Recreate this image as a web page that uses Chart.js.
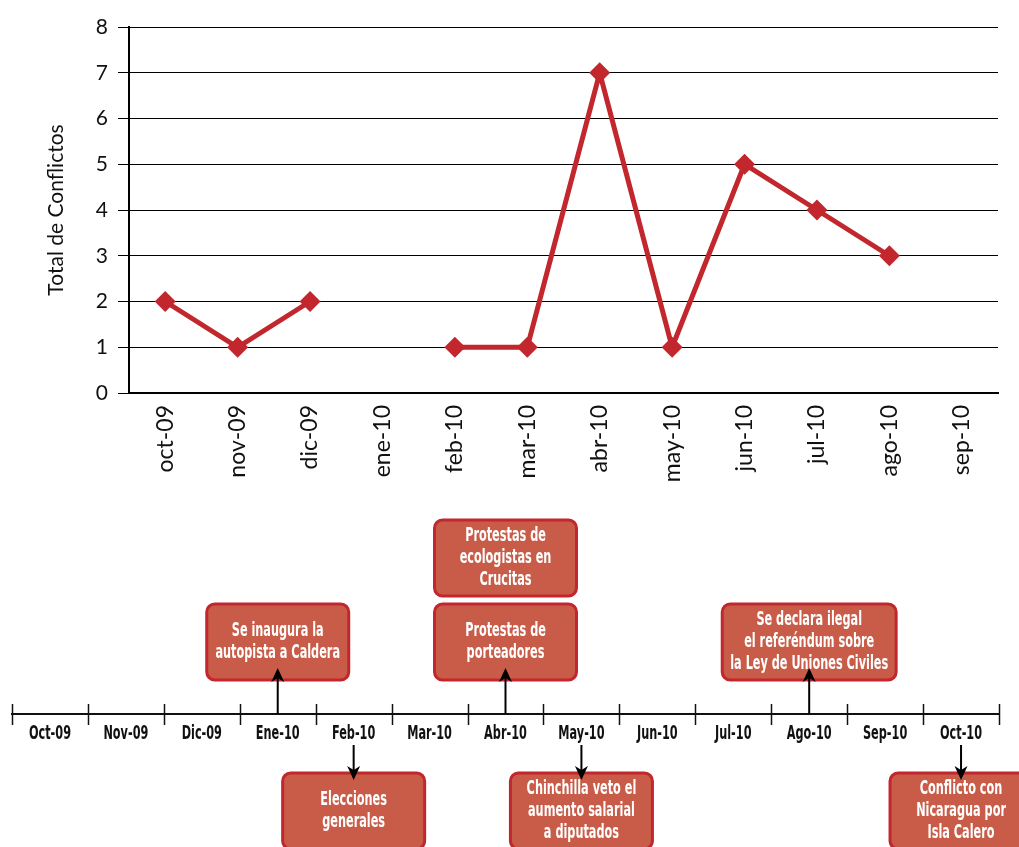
<!DOCTYPE html>
<html>
<head>
<meta charset="utf-8">
<title>Conflictos</title>
<script src="https://cdn.jsdelivr.net/npm/chart.js"></script>
<style>
body { margin: 0; background: #fff; }
#topChart { position: absolute; left: 0; top: 0; }
#timeline { position: absolute; left: 0; top: 490px; }
</style>
</head>
<body>
<canvas id="topChart" width="1019" height="490"></canvas>
<canvas id="timeline" width="1019" height="357"></canvas>
<script>
// data
const months = ['oct-09', 'nov-09', 'dic-09', 'ene-10', 'feb-10', 'mar-10', 'abr-10', 'may-10', 'jun-10', 'jul-10', 'ago-10', 'sep-10'];
const conflicts = [2, 1, 2, null, 1, 1, 7, 1, 5, 4, 3, null];
const yMin = 0;
const yMax = 8;

const timelineMonths = ['Oct-09', 'Nov-09', 'Dic-09', 'Ene-10', 'Feb-10', 'Mar-10', 'Abr-10', 'May-10', 'Jun-10', 'Jul-10', 'Ago-10', 'Sep-10', 'Oct-10'];
const eventMonths = ['Ene-10', 'Abr-10', 'Abr-10', 'Ago-10', 'Feb-10', 'May-10', 'Oct-10'];
const eventRows = [1, 1, 2, 1, -1, -1, -1]; // 1,2 = above the line, -1 = below
const eventTexts = [
    ['Se inaugura la', 'autopista a Caldera'],
    ['Protestas de', 'porteadores'],
    ['Protestas de', 'ecologistas en', 'Crucitas'],
    ['Se declara ilegal', 'el referéndum sobre', 'la Ley de Uniones Civiles'],
    ['Elecciones', 'generales'],
    ['Chinchilla veto el', 'aumento salarial', 'a diputados'],
    ['Conflicto con', 'Nicaragua por', 'Isla Calero']
];

const red = '#c1272d';
const geo = 'Lato, "Noto Sans", sans-serif';
const narrow = '"DejaVu Sans Condensed", "DejaVu Sans", sans-serif';
const squeeze = 0.66; // horizontal squeeze to mimic the condensed face

new Chart(document.getElementById('topChart'), {
    type: 'line',
    data: {
        labels: months,
        datasets: [{
            label: 'Total de Conflictos',
            data: conflicts,
            borderColor: red,
            backgroundColor: red,
            borderWidth: 5,
            pointStyle: 'rectRot',
            pointRadius: 10.5,
            pointBorderWidth: 0,
            pointBackgroundColor: red,
            tension: 0
        }]
    },
    options: {
        responsive: false,
        animation: false,
        layout: { padding: { left: 40, top: 27, right: 21, bottom: 0 } },
        plugins: { legend: { display: false }, tooltip: { enabled: false } },
        scales: {
            x: {
                offset: true,
                grid: { display: false },
                border: { color: '#000', width: 2 },
                ticks: {
                    color: '#111',
                    font: { family: geo, size: 23 },
                    minRotation: 90,
                    maxRotation: 90,
                    padding: 4
                },
                afterFit: (scale) => { scale.height = 97; }
            },
            y: {
                min: yMin,
                max: yMax,
                grid: { color: '#000', lineWidth: 1, tickLength: 11 },
                border: { color: '#000', width: 2 },
                ticks: {
                    stepSize: 1,
                    color: '#111',
                    font: { family: geo, size: 21 },
                    padding: 10
                },
                title: {
                    display: true,
                    text: 'Total de Conflictos',
                    color: '#111',
                    font: { family: geo, size: 21 }
                },
                afterFit: (scale) => { scale.width = 89; }
            }
        }
    }
});

function squeezedText(ctx, text, x, y) {
    ctx.save();
    ctx.translate(x, y);
    ctx.scale(squeeze, 1);
    ctx.fillText(text, 0, 0);
    ctx.restore();
}

// tick marks, month labels, boxes and arrows for the timeline
const timelinePlugin = {
    id: 'timelineEvents',
    afterDraw(chart) {
        const ctx = chart.ctx;
        const x = chart.scales.x;
        const area = chart.chartArea;
        const y0 = area.bottom;
        const step = (area.right - area.left) / timelineMonths.length;

        ctx.save();
        ctx.strokeStyle = '#111';
        ctx.lineWidth = 1.5;
        for (let i = 0; i <= timelineMonths.length; i++) {
            const px = Math.round(area.left + i * step) + 0.5;
            ctx.beginPath();
            ctx.moveTo(px, y0 - 10);
            ctx.lineTo(px, y0 + 11);
            ctx.stroke();
        }

        ctx.textAlign = 'center';
        ctx.textBaseline = 'middle';
        ctx.fillStyle = '#111';
        ctx.font = 'bold 19px ' + narrow;
        x.getLabels().forEach((lab, i) => {
            squeezedText(ctx, lab, x.getPixelForValue(i), y0 + 20);
        });

        const boxH = 76;
        const lineH = 22;
        eventMonths.forEach((m, i) => {
            const cx = x.getPixelForValue(timelineMonths.indexOf(m));
            const lines = eventTexts[i];
            const textW = Math.max(...lines.map(l => ctx.measureText(l).width)) * squeeze;
            const boxW = Math.max(142, textW + 16);
            let top, arrowFrom, arrowTo;
            if (eventRows[i] > 0) {
                top = y0 - 110 - (eventRows[i] - 1) * 84;
                arrowFrom = y0; arrowTo = y0 - 46;
            } else {
                top = y0 + 59;
                arrowFrom = y0 + 31; arrowTo = y0 + 66;
            }

            ctx.fillStyle = '#c95c48';
            ctx.strokeStyle = red;
            ctx.lineWidth = 3;
            ctx.beginPath();
            ctx.roundRect(cx - boxW / 2, top, boxW, boxH, 8);
            ctx.fill();
            ctx.stroke();

            ctx.fillStyle = '#fff';
            const mid = top + boxH / 2;
            lines.forEach((l, j) => {
                squeezedText(ctx, l, cx, mid + (j - (lines.length - 1) / 2) * lineH);
            });

            if (eventRows[i] !== 2) {
                const dir = arrowTo < arrowFrom ? -1 : 1;
                ctx.strokeStyle = '#000';
                ctx.fillStyle = '#000';
                ctx.lineWidth = 2;
                ctx.beginPath();
                ctx.moveTo(cx, arrowFrom);
                ctx.lineTo(cx, arrowTo - dir * 9);
                ctx.stroke();
                ctx.beginPath();
                ctx.moveTo(cx, arrowTo);
                ctx.lineTo(cx - 6.5, arrowTo - dir * 14);
                ctx.lineTo(cx, arrowTo - dir * 10);
                ctx.lineTo(cx + 6.5, arrowTo - dir * 14);
                ctx.closePath();
                ctx.fill();
            }
        });
        ctx.restore();
    }
};

new Chart(document.getElementById('timeline'), {
    type: 'line',
    data: { labels: timelineMonths, datasets: [] },
    options: {
        responsive: false,
        animation: false,
        layout: { padding: { left: 12, right: 20, top: 0, bottom: 0 } },
        plugins: { legend: { display: false }, tooltip: { enabled: false } },
        scales: {
            x: {
                offset: true,
                grid: { display: false },
                border: { color: '#111', width: 2 },
                ticks: { display: false },
                afterFit: (scale) => { scale.height = 133; }
            },
            y: { display: false, min: 0, max: 1 }
        }
    },
    plugins: [timelinePlugin]
});
</script>
</body>
</html>
